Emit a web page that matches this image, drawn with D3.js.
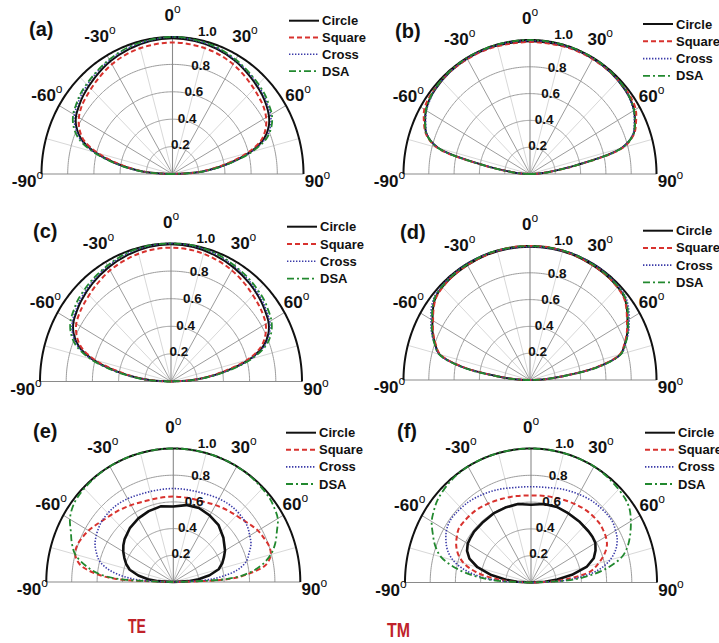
<!DOCTYPE html>
<html>
<head>
<meta charset="utf-8">
<script src="https://cdn.jsdelivr.net/npm/d3@7"></script>
<style>
  html, body { margin: 0; padding: 0; background: #fff; }
  svg { display: block; }
</style>
</head>
<body>
<svg id="chart" width="719" height="643"></svg>
<script>
// Observation angles (degrees) shared by every pattern
const angles = [-90, -87, -84, -80, -75, -70, -65, -60, -55, -50, -40, -30, -20, -10, 0,
                10, 20, 30, 40, 50, 55, 60, 65, 70, 75, 80, 84, 87, 90];

const seriesNames = ["Circle", "Square", "Cross", "DSA"];
const panelLabels = ["(a)", "(b)", "(c)", "(d)", "(e)", "(f)"];
const angleTicks = [-90, -60, -30, 0, 30, 60, 90];
const radialTicks = [0.2, 0.4, 0.6, 0.8, 1.0];
const modeLabels = ["TE", "TM"];

// (a)
const aCircle = [0, .16, .28, .43, .61, .74, .81, .85, .87, .89, .92, .95, .97, .985, .99, .985, .975, .955, .925, .895, .875, .85, .81, .74, .61, .43, .28, .16, 0];
const aSquare = [0, .15, .27, .41, .59, .72, .785, .825, .85, .865, .895, .925, .945, .955, .96, .955, .945, .925, .895, .865, .85, .825, .785, .72, .59, .41, .27, .15, 0];
const aCross  = [0, .16, .29, .44, .62, .75, .82, .865, .885, .905, .935, .96, .98, .99, 1.0, .99, .98, .96, .935, .905, .885, .865, .825, .755, .62, .44, .29, .16, 0];
const aDSA    = [0, .16, .29, .44, .63, .765, .835, .875, .895, .915, .94, .965, .985, .995, 1.0, .995, .985, .965, .94, .915, .895, .875, .835, .765, .63, .44, .29, .16, 0];
// (b)
const bCircle = [0, .07, .15, .36, .75, .87, .915, .95, .97, .98, .99, .995, .995, .99, .99, .99, .995, .995, .99, .98, .97, .95, .915, .87, .75, .36, .15, .07, 0];
const bSquare = [0, .07, .15, .37, .76, .875, .925, .965, .98, .985, .99, .99, .99, .985, .985, .985, .99, .99, .99, .985, .98, .965, .925, .875, .76, .37, .15, .07, 0];
const bCross  = [0, .07, .15, .36, .75, .865, .91, .945, .965, .98, .99, .995, .995, .995, .995, .995, .995, .995, .99, .98, .965, .945, .91, .865, .75, .36, .15, .07, 0];
const bDSA    = [0, .08, .16, .37, .755, .87, .915, .95, .97, .985, .995, 1.0, 1.0, 1.0, 1.0, 1.0, 1.0, 1.0, .995, .985, .97, .95, .915, .87, .755, .37, .16, .08, 0];
// (c)
const cCircle = [0, .14, .26, .42, .62, .75, .82, .86, .88, .90, .93, .955, .975, .99, .995, .99, .975, .955, .93, .90, .88, .86, .82, .75, .62, .42, .26, .14, 0];
const cSquare = [0, .13, .25, .40, .60, .73, .795, .835, .855, .87, .90, .93, .95, .965, .97, .965, .95, .93, .90, .87, .855, .835, .795, .73, .60, .40, .25, .13, 0];
const cCross  = [0, .14, .26, .43, .63, .76, .83, .87, .89, .91, .94, .965, .985, .995, 1.0, .995, .985, .965, .94, .91, .89, .87, .83, .76, .63, .43, .26, .14, 0];
const cDSA    = [0, .15, .27, .44, .64, .775, .845, .885, .905, .925, .95, .97, .99, 1.0, 1.0, 1.0, .99, .97, .95, .925, .905, .885, .845, .775, .64, .44, .27, .15, 0];
// (d)
const dCircle = [0, .12, .25, .53, .74, .80, .85, .89, .935, .97, .985, .99, .995, .995, .995, .995, .995, .99, .985, .97, .935, .89, .85, .80, .74, .53, .25, .12, 0];
const dSquare = [0, .12, .25, .52, .735, .795, .845, .885, .93, .965, .985, .99, .995, 1.0, 1.0, 1.0, .995, .99, .985, .965, .93, .885, .845, .795, .735, .52, .25, .12, 0];
const dCross  = [0, .12, .25, .53, .745, .805, .86, .905, .95, .98, .995, 1.0, 1.0, .995, .995, .995, 1.0, 1.0, .995, .98, .95, .905, .86, .805, .745, .53, .25, .12, 0];
const dDSA    = [0, .12, .26, .54, .745, .805, .855, .895, .94, .975, .99, .995, 1.0, 1.0, 1.0, 1.0, 1.0, .995, .99, .975, .94, .895, .855, .805, .745, .54, .26, .12, 0];
// (e)
const eCircle = [0, .12, .20, .28, .355, .395, .425, .455, .48, .50, .53, .55, .565, .575, .565, .585, .59, .575, .555, .515, .49, .47, .44, .41, .37, .29, .20, .12, 0];
const eSquare = [0, .46, .62, .745, .80, .805, .79, .77, .745, .72, .69, .665, .645, .64, .64, .64, .645, .665, .69, .72, .745, .77, .785, .80, .795, .74, .60, .45, 0];
const eCross  = [0, .26, .39, .51, .60, .645, .68, .70, .715, .725, .73, .72, .705, .70, .70, .70, .705, .72, .73, .725, .715, .695, .675, .635, .595, .51, .38, .25, 0];
const eDSA    = [0, .43, .59, .70, .80, .85, .89, .94, .97, .985, .995, 1.0, 1.0, 1.0, 1.0, 1.0, 1.0, 1.0, .995, .985, .97, .95, .90, .855, .795, .70, .58, .42, 0];
// (f)
const fCircle = [0, .11, .20, .32, .44, .52, .56, .58, .585, .59, .59, .595, .595, .595, .58, .595, .60, .595, .595, .595, .595, .59, .565, .53, .46, .33, .21, .11, 0];
const fSquare = [0, .18, .30, .44, .55, .615, .655, .68, .70, .70, .695, .68, .665, .655, .65, .655, .665, .68, .695, .70, .695, .685, .665, .62, .555, .48, .33, .20, 0];
const fCross  = [0, .25, .40, .53, .64, .705, .745, .775, .79, .79, .78, .76, .74, .72, .715, .72, .74, .76, .78, .79, .79, .775, .755, .715, .65, .545, .40, .25, 0];
const fDSA    = [0, .28, .44, .60, .74, .81, .86, .91, .94, .965, .99, 1.0, 1.0, 1.0, 1.0, 1.0, 1.0, 1.0, .99, .975, .955, .915, .87, .82, .75, .61, .45, .29, 0];

const panelSeries = [
  [aCircle, aSquare, aCross, aDSA],
  [bCircle, bSquare, bCross, bDSA],
  [cCircle, cSquare, cCross, cDSA],
  [dCircle, dSquare, dCross, dDSA],
  [eCircle, eSquare, eCross, eDSA],
  [fCircle, fSquare, fCross, fDSA]
];

// Panel geometry: centre x, baseline y, horizontal / vertical radius of the unit circle,
// panel tag position, legend origin and row step
const layout = [
  { cx: 172.5, base: 174,   rx: 131,   ry: 137,   tag: [29, 36],   legend: [289, 20.7, 16.8], thick: 2 },
  { cx: 530,   base: 174,   rx: 126.5, ry: 134,   tag: [395, 37.5], legend: [643, 24, 17.3],   thick: 2 },
  { cx: 171,   base: 381.5, rx: 131,   ry: 138,   tag: [33, 237.5], legend: [287, 226.7, 17.3], thick: 2 },
  { cx: 530,   base: 380,   rx: 126.5, ry: 134,   tag: [400, 239], legend: [643, 230.7, 17.2], thick: 2 },
  { cx: 173.3, base: 582,   rx: 127,   ry: 133.5, tag: [33, 438],  legend: [286, 432.7, 17.1], thick: 2.6, polyCircle: true },
  { cx: 531,   base: 582.5, rx: 126,   ry: 134,   tag: [397, 438], legend: [645, 432.7, 17.1], thick: 2.6, polyCircle: true }
];

const seriesStyle = [
  { color: "#111111", dash: null,        width: 2 },
  { color: "#d8322e", dash: "5,3",       width: 2 },
  { color: "#3a3aa8", dash: "1.4,1.6",   width: 1.6 },
  { color: "#22892f", dash: "7,3,2,3",   width: 1.8 }
];

const FONT = "'Liberation Sans', Arial, Helvetica, sans-serif";
const svg = d3.select("#chart");
svg.append("rect").attr("width", 719).attr("height", 643).attr("fill", "#fff");

const rad = d => d * Math.PI / 180;

layout.forEach((L, pi) => {
  const g = svg.append("g");
  const x = d3.scaleLinear().domain([-1, 1]).range([L.cx - L.rx, L.cx + L.rx]);
  const y = d3.scaleLinear().domain([0, 1]).range([L.base, L.base - L.ry]);
  const pt = (r, deg) => [x(r * Math.sin(rad(deg))), y(r * Math.cos(rad(deg)))];
  const arcDegs = d3.range(-90, 90.5, 1);
  const arcLine = d3.line();

  // light spokes every 15 degrees between the labelled ones
  [-75, -45, -15, 15, 45, 75].forEach(a => {
    g.append("path").attr("d", arcLine([pt(0, a), pt(1, a)]))
      .attr("stroke", "#d8d8d8").attr("stroke-width", 1).attr("fill", "none");
  });
  // grid circles
  radialTicks.filter(r => r < 1).forEach(r => {
    g.append("path").attr("d", arcLine(arcDegs.map(a => pt(r, a))))
      .attr("stroke", "#9c9c9c").attr("stroke-width", 1).attr("fill", "none");
  });
  // labelled spokes
  [-60, -30, 30, 60].forEach(a => {
    g.append("path").attr("d", arcLine([pt(0, a), pt(1, a)]))
      .attr("stroke", "#9c9c9c").attr("stroke-width", 1).attr("fill", "none");
  });
  g.append("path").attr("d", arcLine([pt(0, 0), pt(1, 0)]))
    .attr("stroke", "#8a8a8a").attr("stroke-width", 1.1).attr("fill", "none");
  // baseline
  g.append("path").attr("d", arcLine([pt(1, -90), pt(1, 90)]))
    .attr("stroke", "#8a8a8a").attr("stroke-width", 1.1).attr("fill", "none");
  // outer boundary
  g.append("path").attr("d", arcLine(arcDegs.map(a => pt(1, a))))
    .attr("stroke", "#111").attr("stroke-width", 2).attr("fill", "none");

  // patterns
  panelSeries[pi].forEach((vals, si) => {
    const st = seriesStyle[si];
    const curve = (si === 0 && L.polyCircle) ? d3.curveLinear : d3.curveCatmullRom.alpha(0.5);
    const line = d3.line().curve(curve);
    g.append("path")
      .attr("d", line(angles.map((a, i) => pt(vals[i], a))))
      .attr("fill", "none")
      .attr("stroke", st.color)
      .attr("stroke-width", si === 0 ? L.thick : st.width)
      .attr("stroke-dasharray", st.dash)
      .attr("stroke-linejoin", "round");
  });

  // radial tick labels along the 15 degree direction
  radialTicks.forEach(r => {
    const p = pt(r, 15);
    g.append("text")
      .attr("x", p[0] + 1)
      .attr("y", p[1] - (r === 1 ? 10 : 3))
      .attr("text-anchor", "middle")
      .attr("dominant-baseline", "central")
      .attr("font-family", FONT).attr("font-weight", "bold").attr("font-size", 13.5)
      .attr("fill", "#111")
      .text(d3.format(".1f")(r));
  });

  // angle labels
  angleTicks.forEach(a => {
    const lx = L.cx + Math.sin(rad(a)) * (L.rx + 14);
    const ly = L.base - Math.cos(rad(a)) * (L.ry + 22) + (Math.abs(a) === 90 ? 7 : 0);
    const t = g.append("text")
      .attr("x", lx).attr("y", ly)
      .attr("text-anchor", "middle")
      .attr("dominant-baseline", "central")
      .attr("font-family", FONT).attr("font-weight", "bold").attr("font-size", 17)
      .attr("fill", "#111");
    t.append("tspan").text(String(a));
    t.append("tspan").attr("dy", -6).attr("font-size", 12).attr("font-weight", "normal").text("o");
  });

  // panel tag
  g.append("text")
    .attr("x", L.tag[0]).attr("y", L.tag[1])
    .attr("font-family", FONT).attr("font-weight", "bold").attr("font-size", 20)
    .attr("fill", "#111")
    .text(panelLabels[pi]);

  // legend
  const [lx0, ly0, lstep] = L.legend;
  seriesNames.forEach((name, si) => {
    const st = seriesStyle[si];
    const yy = ly0 + si * lstep;
    g.append("line")
      .attr("x1", lx0).attr("x2", lx0 + 30).attr("y1", yy).attr("y2", yy)
      .attr("stroke", st.color)
      .attr("stroke-width", si === 0 ? 2 : st.width)
      .attr("stroke-dasharray", st.dash);
    g.append("text")
      .attr("x", lx0 + 33).attr("y", yy)
      .attr("dominant-baseline", "central")
      .attr("font-family", FONT).attr("font-weight", "bold").attr("font-size", 13)
      .attr("fill", "#111")
      .text(name);
  });
});

// polarisation captions under each column
const captionPos = [[137, 625.5, 18], [398.5, 630, 23]];
modeLabels.forEach((m, i) => {
  svg.append("text")
    .attr("x", captionPos[i][0]).attr("y", captionPos[i][1])
    .attr("text-anchor", "middle")
    .attr("dominant-baseline", "central")
    .attr("textLength", captionPos[i][2])
    .attr("lengthAdjust", "spacingAndGlyphs")
    .attr("font-family", FONT).attr("font-weight", "bold").attr("font-size", 20)
    .attr("fill", "#c0222a")
    .text(m);
});
</script>
</body>
</html>
